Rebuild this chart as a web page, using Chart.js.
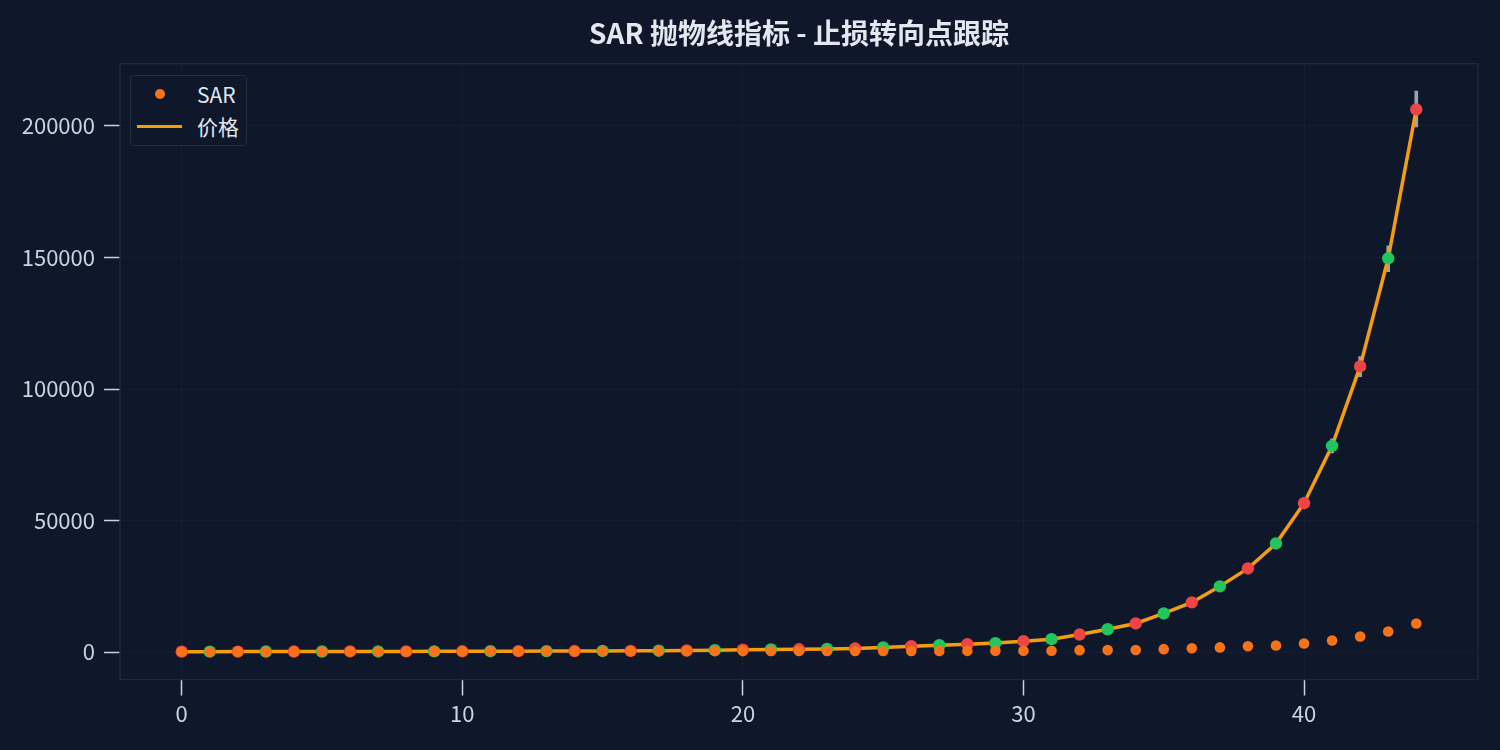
<!DOCTYPE html>
<html>
<head>
<meta charset="utf-8">
<script src="https://cdn.jsdelivr.net/npm/chart.js@4.4.1/dist/chart.umd.min.js"></script>
<style>
  html, body { margin: 0; padding: 0; background: #0f172a; }
  #wrap { position: relative; width: 1500px; height: 750px; }
  #legend {
    position: absolute; left: 130px; top: 75px; width: 115px; height: 69px;
    border: 1.5px solid #222e42; border-radius: 4px; background: #0f172a;
    font-family: "Noto Sans CJK SC", "Noto Sans", sans-serif; font-size: 21px; color: #e2e8f0;
  }
  #legend .row { position: absolute; left: 0; height: 30px; line-height: 30px; }
  #legend .dot { position: absolute; left: 24px; top: 10px; width: 10px; height: 10px; border-radius: 50%; background: #f97316; }
  #legend .ln { position: absolute; left: 6px; top: 13.5px; width: 45px; height: 3.5px; background: #f59e0b; }
  #legend .txt { position: absolute; left: 66px; white-space: nowrap; }
</style>
</head>
<body>
<div id="wrap">
  <canvas id="chart-sar" width="1500" height="750"></canvas>
  <div id="legend">
    <div class="row" style="top:3px"><span class="dot"></span><span class="txt">SAR</span></div>
    <div class="row" style="top:35px"><span class="ln"></span><span class="txt">价格</span></div>
  </div>
</div>
<script>
// bar index (x axis)
const days = [0, 1, 2, 3, 4, 5, 6, 7, 8, 9, 10, 11, 12, 13, 14, 15, 16, 17, 18, 19, 20, 21,
  22, 23, 24, 25, 26, 27, 28, 29, 30, 31, 32, 33, 34, 35, 36, 37, 38, 39, 40, 41, 42, 43, 44];

// close price
const price = [180, 190, 205, 215, 225, 240, 255, 270, 290, 305, 325, 345, 370, 395, 420, 450,
  490, 540, 620, 760, 920, 1010, 1080, 1230, 1420, 1780, 2260, 2650, 3040, 3430, 4170, 4940,
  6700, 8700, 10900, 14700, 18900, 25000, 31800, 41300, 56600, 78400, 108600, 149700, 206300];

// high / low per bar
const highs = [186, 197, 212, 222, 233, 248, 264, 279, 300, 316, 336, 357, 383, 409, 435, 466,
  507, 559, 642, 786, 952, 1045, 1117, 1272, 1469, 1841, 2338, 2741, 3145, 3548, 4314, 5110,
  6930, 9000, 11280, 15210, 19550, 25860, 32900, 42700, 58550, 81100, 112300, 154400, 213300];
const lows = [174, 183, 198, 208, 217, 232, 246, 261, 280, 294, 314, 333, 357, 381, 405, 434,
  473, 521, 598, 734, 888, 975, 1043, 1188, 1371, 1719, 2182, 2559, 2935, 3312, 4026, 4770,
  6470, 8400, 10520, 14190, 18250, 24140, 30700, 39900, 54650, 75700, 104700, 144600, 199600];

// parabolic SAR
const sar = [160, 170, 180, 190, 200, 215, 230, 245, 260, 275, 290, 305, 320, 335, 350, 365,
  375, 385, 390, 395, 400, 410, 420, 430, 440, 450, 460, 470, 480, 490, 500, 510,
  760, 780, 800, 1140, 1500, 1800, 2250, 2550, 3300, 4450, 5950, 7850, 10900];

const xTicks = [0, 10, 20, 30, 40];
const yTicks = [0, 50000, 100000, 150000, 200000];

const upColor = '#22c55e';
const downColor = '#ef4444';

Chart.defaults.font.family = '"Noto Sans CJK SC", "Noto Sans", sans-serif';
Chart.defaults.color = '#cbd5e1';

// frame round the plot area
const framePlugin = {
  id: 'frame',
  afterDatasetsDraw(chart) {
    const { ctx, chartArea: a } = chart;
    ctx.save();
    ctx.strokeStyle = '#1e293b';
    ctx.lineWidth = 1.5;
    ctx.strokeRect(a.left, a.top, a.right - a.left, a.bottom - a.top);
    ctx.restore();
  }
};

const gridCfg = {
  offset: false,
  color: 'rgba(148, 163, 184, 0.05)',
  tickColor: '#cbd5e1',
  tickLength: 16,
  tickWidth: 1.5,
  lineWidth: 1
};

new Chart(document.getElementById('chart-sar'), {
  type: 'line',
  data: {
    datasets: [
      {
        label: 'SAR',
        data: days.map((d, i) => ({ x: d, y: sar[i] })),
        showLine: false,
        pointRadius: 5.3,
        pointHoverRadius: 5.3,
        pointBackgroundColor: '#f97316',
        pointBorderWidth: 0,
        order: 0
      },
      {
        label: '价格',
        data: days.map((d, i) => ({ x: d, y: price[i] })),
        borderColor: '#f59e0b',
        borderWidth: 3.5,
        tension: 0,
        pointRadius: 6.2,
        pointHoverRadius: 6.2,
        pointBorderWidth: 0,
        pointBackgroundColor: ctx => (ctx.dataIndex % 2 === 0 ? downColor : upColor),
        order: 1
      },
      {
        type: 'bar',
        label: 'range',
        data: days.map((d, i) => ({ x: d, y: [lows[i], highs[i]] })),
        backgroundColor: '#94a3b8',
        barThickness: 3,
        grouped: false,
        order: 2
      }
    ]
  },
  options: {
    responsive: false,
    animation: false,
    devicePixelRatio: 1,
    layout: { padding: { left: 0, right: 22, top: 0, bottom: 0 } },
    plugins: {
      legend: { display: false },
      tooltip: { enabled: false },
      title: {
        display: true,
        fullSize: false,
        text: 'SAR 抛物线指标 - 止损转向点跟踪',
        color: '#e2e8f0',
        font: { size: 28, weight: 'bold' },
        padding: { top: 17, bottom: 13 }
      }
    },
    scales: {
      x: {
        type: 'linear',
        min: -2.2,
        max: 46.2,
        offset: false,
        grid: gridCfg,
        border: { display: false },
        afterBuildTicks: s => { s.ticks = xTicks.map(v => ({ value: v })); },
        afterFit: s => { s.height = 70.5; },
        ticks: { font: { size: 22 }, padding: 5, maxRotation: 0, callback: v => String(v) }
      },
      y: {
        min: -10400,
        max: 223700,
        grid: gridCfg,
        border: { display: false },
        afterBuildTicks: s => { s.ticks = yTicks.map(v => ({ value: v })); },
        afterFit: s => { s.width = 120; },
        ticks: { font: { size: 22 }, padding: 9, callback: v => String(v) }
      }
    }
  },
  plugins: [framePlugin]
});
</script>
</body>
</html>
